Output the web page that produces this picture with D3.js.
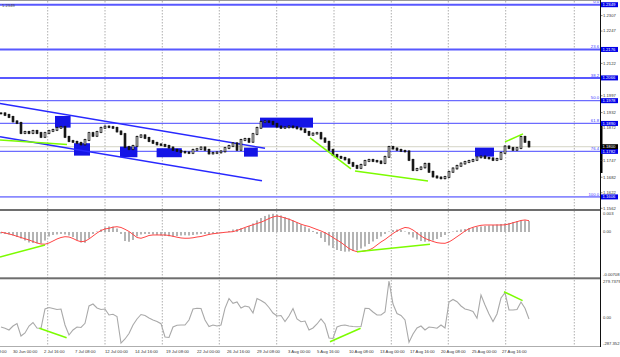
<!DOCTYPE html>
<html><head><meta charset="utf-8">
<script src="https://cdn.jsdelivr.net/npm/d3@7/dist/d3.min.js"></script>
<style>html,body{margin:0;padding:0;background:#fff;}svg{display:block;font-family:"Liberation Sans",Arial,sans-serif;}</style>
</head><body><svg id="c" width="620" height="357"></svg>
<script>
// ---- DATA ----
const closes = [1.1929,1.1923,1.1915,1.1898,1.1892,1.1853,1.1857,1.1853,1.1861,1.1853,
 1.1838,1.1853,1.1861,1.1865,1.1873,1.1876,1.1838,1.1822,1.1819,1.1815,
 1.1809,1.1826,1.1853,1.1842,1.1857,1.1873,1.1878,1.1876,1.1873,1.1859,
 1.1849,1.1799,1.1791,1.1803,1.1838,1.1844,1.1834,1.1822,1.1815,1.1809,
 1.1807,1.1803,1.1797,1.1788,1.1784,1.1780,1.1778,1.1776,1.1788,1.1791,
 1.1797,1.1788,1.1774,1.1776,1.1778,1.1782,1.1795,1.1803,1.1813,1.1788,
 1.1826,1.1830,1.1819,1.1849,1.1873,1.1896,1.1898,1.1896,1.1888,1.1878,
 1.1873,1.1875,1.1878,1.1875,1.1871,1.1867,1.1857,1.1846,1.1851,1.1853,
 1.1832,1.1819,1.1788,1.1768,1.1761,1.1757,1.1751,1.1737,1.1726,1.1718,
 1.1730,1.1745,1.1749,1.1745,1.1743,1.1737,1.1761,1.1799,1.1793,1.1788,
 1.1784,1.1782,1.1749,1.1710,1.1714,1.1720,1.1734,1.1703,1.1685,1.1681,
 1.1678,1.1683,1.1703,1.1716,1.1726,1.1735,1.1741,1.1745,1.1749,1.1759,
 1.1762,1.1757,1.1755,1.1749,1.1753,1.1776,1.1801,1.1795,1.1788,1.1795,
 1.1838,1.1819,1.1801];

// MACD main (histogram) and signal, in units of 1e-4
const macdHist = [-2.4,-3.1,-3.9,-5.5,-7.9,-10.2,-13.4,-16.5,-17.3,-17.8,
 -18.1,-13.4,-7.1,-4.7,-3.9,-3.1,-3.9,-5.5,-7.9,-12.6,
 -16.5,-17.0,-10.2,-3.1,0.8,3.9,7.1,8.7,8.3,5.5,
 -3.1,-14.2,-15.4,-12.6,-7.1,-3.9,-3.1,-3.1,-3.9,-4.7,
 -5.5,-6.3,-6.8,-7.1,-6.3,-5.5,-5.2,-5.5,-4.7,-3.9,
 -3.1,-3.1,-3.9,-3.1,-1.9,-0.8,0,1.6,3.9,4.7,
 5.8,6.3,9.4,13.4,18.1,22.0,25.2,27.5,28.6,27.5,
 26.0,23.6,21.2,18.1,14.9,11.8,8.7,5.5,1.6,-3.1,
 -9.4,-15.7,-21.2,-25.2,-28.3,-29.9,-31.0,-30.7,-29.9,-29.1,
 -26.0,-22.8,-18.9,-14.9,-11.0,-7.1,-3.1,0.8,3.1,3.9,
 3.1,0.8,-3.9,-8.7,-11.8,-14.2,-15.3,-14.9,-13.4,-11.0,
 -7.9,-4.7,-1.6,0.8,2.4,3.9,4.7,6.3,7.1,7.9,
 8.7,9.4,10.2,11.0,11.8,12.6,13.4,14.2,15.7,17.0,
 17.8,18.1,17.3];
const macdSignal = [-0.3,-1.6,-3.1,-4.7,-6.8,-8.7,-10.7,-12.6,-14.9,-17.3,
 -18.9,-19.2,-17.3,-14.2,-11.0,-8.7,-7.4,-7.9,-10.2,-13.4,
 -15.3,-14.5,-11.0,-6.3,-1.6,2.4,4.7,5.8,7.6,8.3,
 7.1,4.2,0.8,-3.9,-8.7,-9.9,-7.9,-5.5,-4.7,-4.7,
 -4.7,-4.7,-5.5,-6.8,-8.2,-9.4,-9.9,-9.8,-9.1,-7.9,
 -7.1,-5.5,-3.9,-2.8,-2.0,-1.3,-0.5,0,0.5,2.4,
 4.7,7.1,9.4,11.3,13.4,15.4,18.1,21.2,23.6,25.2,
 23.9,22.0,20.1,17.6,14.9,12.3,10.2,8.7,6.3,3.9,
 1.6,-1.3,-4.7,-8.7,-12.6,-16.5,-21.2,-26.0,-29.1,-31.0,
 -30.7,-29.6,-28.3,-25.2,-20.4,-15.7,-11.8,-7.1,-2.4,1.6,
 4.7,7.1,6.3,3.1,-1.6,-6.3,-10.2,-12.6,-14.9,-16.8,
 -17.6,-17.8,-15.7,-11.8,-7.4,-3.1,1.6,5.0,7.4,9.1,
 10.5,11.0,11.0,11.0,11.0,11.0,11.3,12.6,14.5,16.2,
 18.1,18.9,17.8];

const cci = [-124.1,-135.2,-149.8,-115.5,-94.0,-201.4,-175.6,-115.5,-85.4,-132.7,
 -135.2,30.6,43.5,34.9,26.3,30.6,-106.9,-192.8,-149.8,-124.1,
 -128.4,-92.3,56.4,73.5,39.2,26.3,30.6,-21.0,-15.0,-33.9,
 -262.0,-227.2,-179.9,-106.9,-55.3,-16.7,-25.3,-46.7,-63.9,-76.8,
 -95.7,-210.0,-214.3,-124.1,-109.5,-106.9,-106.9,-63.9,30.6,36.6,
 34.9,-63.9,-119.8,-106.9,-115.5,-106.9,36.6,120.8,79.6,90.7,
 39.2,56.4,47.8,-3.8,120.8,103.6,82.1,43.5,-3.8,-29.6,
 -25.3,-76.8,-29.6,34.9,-55.3,-78.5,-72.5,-149.8,-132.7,-98.3,
 -55.3,-98.3,-218.6,-222.9,-124.1,-111.2,-106.9,-115.5,-119.8,-121.5,
 -119.8,36.6,34.9,4.8,-21.0,-21.0,4.8,271.2,73.5,-8.1,
 -25.3,-63.9,-255.0,-184.2,-132.7,-115.5,-149.8,-124.1,-128.4,-134.4,
 -106.9,-132.7,90.7,112.2,93.3,56.4,30.6,22.0,9.1,-49.3,
 150.0,65.0,-12.4,-76.8,-12.4,125.1,170.0,22.0,22.0,26.3,
 90.7,36.6,-55.3];

const fibNames = ["0.0","23.6","38.2","50.0","61.8","76.4","100.0"];
const fibPriceLabels = ["1.2349","1.2176","1.2066","1.1978","1.1890","1.1782","1.1606"];
const priceTicks = ["1.2307","1.2247","1.2122","1.1997","1.1932","1.1872","1.1747","1.1682","1.1622","1.1562"];
const lastPrice = "1.1800";
const macdLabels = ["0.003","0.00","-0.00708"];
const macdRange = [-70.8, 33];           // 1e-4 units, window min/max
const cciLabels = ["279.7379","0.00","-287.352"];
const cciRange = [-287.352, 279.7379];

const timeLabels = ["25 Jun 08:00","30 Jun 00:00","2 Jul 16:00","7 Jul 08:00","12 Jul 00:00","14 Jul 16:00",
 "19 Jul 08:00","22 Jul 00:00","26 Jul 16:00","29 Jul 08:00","3 Aug 00:00","5 Aug 16:00","10 Aug 08:00",
 "13 Aug 00:00","17 Aug 16:00","20 Aug 08:00","25 Aug 00:00","27 Aug 16:00"];
const timeLabelBars = [-4.675,3,10.75,18.5,26,33.5,41.25,49,56.5,64,71.75,79,87,94.75,102.25,110,117.75,125.25];
const gridBars = [11.675,26,40.325,54.575,68.925,83.25,97.575,111.825,126.175,143.325];

// rectangles (zones): bar range and price range
const zoneStart = [13.5,18.25,29.75,38.9,60.75,64.75,118.5];
const zoneEnd   = [17.4,22.25,34.1,45.2,64.2,78,123.25];
const zoneTop   = [1.1919,1.18135,1.18004,1.17942,1.17965,1.19124,1.17965];
const zoneBot   = [1.18738,1.17656,1.17594,1.17594,1.17617,1.18738,1.17617];

// channel lines [bar0, price0, bar1, price1]
const channelUpper = [-0.25,1.1967,66,1.1794];
const channelLower = [-0.25,1.1839,65.25,1.1668];
// green trend lines
const greenPrice = [[-0.25,1.18262,16.5,1.18088],[77.25,1.1834,87.5,1.17142],[88.5,1.17065,106.75,1.16678],[126,1.18185,130.5,1.18494]];
const greenMacd  = [[-0.25,-39.3,11,-20.4],[89,-31.0,107.25,-19.3]];
const greenCci   = [[9.6,-135.2,16.4,-216.0],[82.25,-250.4,89.9,-135.2],[125.75,179.2,130.4,101.9]];

// ---- DRAW ----
const svg = d3.select("#c");
const AX = 600.5;
const x = d3.scaleLinear().domain([0,132]).range([1,529]);
const yP = d3.scaleLinear().domain([1.1606,1.2349]).range([196.9,4.7]);
const yM = d3.scaleLinear().domain(macdRange).range([277,211]);
const yC = d3.scaleLinear().domain(cciRange).range([346,280]);
const FS = 4.2;

// grid
svg.append("g").selectAll("line").data(gridBars).join("line")
  .attr("x1",d=>x(d)).attr("x2",d=>x(d)).attr("y1",1).attr("y2",346)
  .attr("stroke","#9a9a9a").attr("stroke-width",0.8).attr("stroke-dasharray","1.5,1.5");

// last price line
svg.append("line").attr("x1",0).attr("x2",AX).attr("y1",yP(+lastPrice)).attr("y2",yP(+lastPrice))
  .attr("stroke","#c9c9b8").attr("stroke-width",0.8);

// fib lines
const fibW = [2,2,2,1.2,1.2,1.2,1.6];
const fibC = ["#5858ff","#5858ff","#5858ff","#6c6cff","#6c6cff","#6c6cff","#8a8aff"];
svg.append("g").selectAll("line").data(fibPriceLabels).join("line")
  .attr("x1",0).attr("x2",AX).attr("y1",d=>yP(+d)).attr("y2",d=>yP(+d))
  .attr("stroke",(d,i)=>fibC[i]).attr("stroke-width",(d,i)=>fibW[i]);
svg.append("g").selectAll("text").data(fibNames).join("text")
  .attr("x",599).attr("y",(d,i)=>yP(+fibPriceLabels[i])-1.3).attr("text-anchor","end")
  .attr("font-size",FS).attr("fill","#3a3aff").text(d=>d);

// zones
svg.append("g").selectAll("rect").data(zoneStart).join("rect")
  .attr("x",(d,i)=>x(d)).attr("width",(d,i)=>x(zoneEnd[i])-x(d))
  .attr("y",(d,i)=>yP(zoneTop[i])).attr("height",(d,i)=>yP(zoneBot[i])-yP(zoneTop[i]))
  .attr("fill","#1414e6");

// channel
[channelUpper,channelLower].forEach(c=>{
  svg.append("line").attr("x1",x(c[0])).attr("y1",yP(c[1])).attr("x2",x(c[2])).attr("y2",yP(c[3]))
    .attr("stroke","#2828ff").attr("stroke-width",1.5);
});

// candles (open = previous close)
const candles = closes.map((c,i)=>({i, o: i>0?closes[i-1]:c, c}));
const cg = svg.append("g");
cg.selectAll("line").data(candles).join("line")
  .attr("x1",d=>x(d.i)).attr("x2",d=>x(d.i))
  .attr("y1",d=>Math.min(yP(d.o),yP(d.c))-1.2)
  .attr("y2",d=>Math.max(yP(d.o),yP(d.c))+1.2)
  .attr("stroke","#111").attr("stroke-width",0.8);
cg.selectAll("rect").data(candles).join("rect")
  .attr("x",d=>x(d.i)-0.9).attr("width",1.8)
  .attr("y",d=>Math.min(yP(d.o),yP(d.c))-0.4)
  .attr("height",d=>Math.abs(yP(d.o)-yP(d.c))+0.8)
  .attr("fill",d=>d.c>=d.o?"#fff":"#111").attr("stroke","#111").attr("stroke-width",0.8);

// green lines
const gline = (arr, ys)=>arr.forEach(g=>{
  svg.append("line").attr("x1",x(g[0])).attr("y1",ys(g[1])).attr("x2",x(g[2])).attr("y2",ys(g[3]))
    .attr("stroke","#7cfc00").attr("stroke-width",1.5);
});
gline(greenPrice, yP);

// panel separators
svg.append("line").attr("x1",0).attr("x2",620).attr("y1",0.5).attr("y2",0.5).attr("stroke","#999").attr("stroke-width",1);
svg.append("rect").attr("x",0).attr("y",209).attr("width",601).attr("height",2).attr("fill","#6e6e6e");
svg.append("rect").attr("x",0).attr("y",277.3).attr("width",601).attr("height",2).attr("fill","#6e6e6e");
svg.append("line").attr("x1",0).attr("x2",601).attr("y1",346.5).attr("y2",346.5).attr("stroke","#999").attr("stroke-width",0.8);

// MACD
svg.append("g").selectAll("rect").data(macdHist).join("rect")
  .attr("x",(d,i)=>x(i)-1).attr("width",2)
  .attr("y",d=>Math.min(yM(d),yM(0))).attr("height",d=>Math.abs(yM(d)-yM(0)))
  .attr("fill","#b4b4b4");
svg.append("path").datum(macdSignal)
  .attr("d",d3.line().x((d,i)=>x(i)).y(d=>yM(d)))
  .attr("fill","none").attr("stroke","#ff4545").attr("stroke-width",1);
gline(greenMacd, yM);

// CCI
svg.append("path").datum(cci)
  .attr("d",d3.line().x((d,i)=>x(i)).y(d=>yC(d)))
  .attr("fill","none").attr("stroke","#a9a9a9").attr("stroke-width",1.1);
gline(greenCci, yC);

// right axis
svg.append("rect").attr("x",AX+0.5).attr("y",0).attr("width",20).attr("height",357).attr("fill","#fff");
svg.append("line").attr("x1",AX).attr("x2",AX).attr("y1",0).attr("y2",347).attr("stroke","#111").attr("stroke-width",1);
svg.append("rect").attr("x",AX-0.5).attr("y",123).attr("width",2.5).attr("height",50).attr("fill","#000");
const ax = svg.append("g").attr("font-size",FS).attr("fill","#333");
priceTicks.forEach(t=>{
  const yy = yP(+t);
  ax.append("line").attr("x1",AX).attr("x2",AX+2).attr("y1",yy).attr("y2",yy).attr("stroke","#333").attr("stroke-width",0.6);
  ax.append("text").attr("x",603).attr("y",yy+1.3).text(t);
});
fibPriceLabels.forEach(t=>{
  const yy = yP(+t);
  ax.append("rect").attr("x",601).attr("y",yy-2.5).attr("width",17).attr("height",5).attr("fill","#0000e8");
  ax.append("text").attr("x",602.5).attr("y",yy+1.5).attr("fill","#fff").text(t);
});
{
  const yy = yP(+lastPrice);
  ax.append("rect").attr("x",601).attr("y",yy-2.5).attr("width",17).attr("height",5).attr("fill","#000");
  ax.append("text").attr("x",602.5).attr("y",yy+1.5).attr("fill","#fff").text(lastPrice);
}
// indicator labels
ax.append("text").attr("x",603).attr("y",215).text(macdLabels[0]);
ax.append("text").attr("x",603).attr("y",yM(0)+1.5).text(macdLabels[1]);
ax.append("text").attr("x",603).attr("y",275.5).text(macdLabels[2]);
ax.append("text").attr("x",603).attr("y",283).text(cciLabels[0]);
ax.append("text").attr("x",603).attr("y",319).text(cciLabels[1]);
ax.append("text").attr("x",603).attr("y",345).text(cciLabels[2]);

// top-left text
svg.append("text").attr("x",2).attr("y",6.5).attr("font-size",FS).attr("fill","#444").text(fibPriceLabels[0]);

// time axis
svg.append("g").selectAll("text").data(timeLabels).join("text")
  .attr("x",(d,i)=>x(timeLabelBars[i])).attr("y",353).attr("font-size",FS).attr("fill","#333").text(d=>d);
</script></body></html>
